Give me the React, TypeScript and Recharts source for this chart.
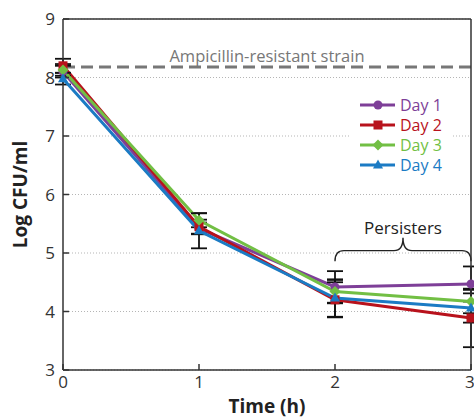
import {
  CartesianGrid,
  ErrorBar,
  Label,
  Legend,
  Line,
  LineChart,
  ReferenceArea,
  ReferenceLine,
  XAxis,
  YAxis,
} from 'recharts'

const FONT = '"Open Sans", "Noto Sans", sans-serif'

const hours = [0, 1, 2, 3]
const day1 = [8.1, 5.42, 4.42, 4.47]
const day1Err = [0.1, 0.1, 0.27, 0.3]
const day2 = [8.2, 5.45, 4.2, 3.89]
const day2Err = [0.12, 0.12, 0.3, 0.5]
const day3 = [8.13, 5.56, 4.34, 4.17]
const day3Err = [0.1, 0.12, 0.2, 0.2]
const day4 = [7.98, 5.38, 4.23, 4.06]
const day4Err = [0.1, 0.3, 0.32, 0.25]

const yTicks = [3, 4, 5, 6, 7, 8, 9]
const resistantLevel = 8.18

type Shape = 'circle' | 'square' | 'diamond' | 'triangle'

const series: { key: string; name: string; color: string; shape: Shape }[] = [
  { key: 'd1', name: 'Day 1', color: '#7e3f98', shape: 'circle' },
  { key: 'd2', name: 'Day 2', color: '#b8121c', shape: 'square' },
  { key: 'd3', name: 'Day 3', color: '#72bf44', shape: 'diamond' },
  { key: 'd4', name: 'Day 4', color: '#1b7bc4', shape: 'triangle' },
]

const data = hours.map((t, i) => ({
  t,
  d1: day1[i],
  d1e: day1Err[i],
  d2: day2[i],
  d2e: day2Err[i],
  d3: day3[i],
  d3e: day3Err[i],
  d4: day4[i],
  d4e: day4Err[i],
}))

function Marker({ shape, cx, cy, color }: { shape: Shape; cx: number; cy: number; color: string }) {
  if (shape === 'square') return <rect x={cx - 4.5} y={cy - 4.5} width={9} height={9} fill={color} />
  if (shape === 'diamond')
    return <polygon points={`${cx},${cy - 5.5} ${cx + 5.5},${cy} ${cx},${cy + 5.5} ${cx - 5.5},${cy}`} fill={color} />
  if (shape === 'triangle')
    return <polygon points={`${cx},${cy - 5.5} ${cx + 5},${cy + 3.5} ${cx - 5},${cy + 3.5}`} fill={color} />
  return <circle cx={cx} cy={cy} r={4.5} fill={color} />
}

// curly brace over the persister region
function Brace(props: any) {
  const { x, y, width, height } = props
  const mid = y + height * 0.55
  const cx = x + width / 2
  const d = `M${x},${y + height} Q${x},${mid} ${x + 9},${mid} L${cx - 9},${mid} Q${cx},${mid} ${cx},${y} Q${cx},${mid} ${cx + 9},${mid} L${x + width - 9},${mid} Q${x + width},${mid} ${x + width},${y + height}`
  return <path d={d} fill="none" stroke="#222" strokeWidth={1.4} />
}

function LegendBox() {
  return (
    <svg width={102} height={84} style={{ background: '#fff', display: 'block' }}>
      {series.map((s, i) => {
        const y = 13 + i * 20
        return (
          <g key={s.key}>
            <line x1={10} x2={45} y1={y} y2={y} stroke={s.color} strokeWidth={3} />
            <Marker shape={s.shape} cx={28} cy={y} color={s.color} />
            <text x={50} y={y + 6} fill={s.color} fontSize={16} fontFamily={FONT}>
              {s.name}
            </text>
          </g>
        )
      })}
    </svg>
  )
}

const axisStroke = { stroke: '#333', strokeWidth: 1.5 }

export default function App() {
  return (
    <div style={{ position: 'absolute', left: 0, top: 0 }}>
      <LineChart width={474} height={420} data={data} margin={{ top: 18, right: 0, bottom: 0, left: 0 }}>
        <CartesianGrid vertical={false} stroke="#b5b5b5" strokeDasharray="1 2" />
        <XAxis
          dataKey="t"
          type="number"
          domain={[0, 3]}
          ticks={hours}
          height={50}
          tickSize={-6}
          tickMargin={12}
          axisLine={axisStroke}
          tickLine={axisStroke}
          tick={{ fill: '#333', fontSize: 17, fontFamily: FONT }}
        >
          <Label
            value="Time (h)"
            position="insideBottom"
            offset={7}
            style={{ fontWeight: 700, fontSize: 19, fill: '#222', fontFamily: FONT }}
          />
        </XAxis>
        <XAxis
          xAxisId="top"
          orientation="top"
          dataKey="t"
          type="number"
          domain={[0, 3]}
          ticks={hours}
          height={1}
          tick={false}
          tickSize={-6}
          axisLine={axisStroke}
          tickLine={axisStroke}
        />
        <YAxis
          type="number"
          domain={[3, 9]}
          ticks={yTicks}
          width={63}
          tickSize={-6}
          tickMargin={14}
          axisLine={axisStroke}
          tickLine={axisStroke}
          tick={{ fill: '#333', fontSize: 17, fontFamily: FONT }}
        >
          <Label
            value="Log CFU/ml"
            angle={-90}
            position="insideLeft"
            offset={20}
            style={{ fontWeight: 700, fontSize: 19, fill: '#222', fontFamily: FONT, textAnchor: 'middle' }}
          />
        </YAxis>
        <YAxis
          yAxisId="right"
          orientation="right"
          type="number"
          domain={[3, 9]}
          ticks={yTicks}
          width={3}
          tick={false}
          tickSize={-6}
          axisLine={axisStroke}
          tickLine={axisStroke}
        />
        <ReferenceLine
          y={resistantLevel}
          stroke="#777"
          strokeWidth={3}
          strokeDasharray="12 6"
          label={{
            value: 'Ampicillin-resistant strain',
            position: 'top',
            offset: 5,
            fill: '#777',
            fontSize: 16.5,
            fontFamily: FONT,
          }}
        />
        <ReferenceArea
          x1={2}
          x2={3}
          y1={4.86}
          y2={5.26}
          shape={Brace}
          label={{ value: 'Persisters', position: 'top', offset: 4, fill: '#222', fontSize: 17, fontFamily: FONT }}
        />
        <Legend
          layout="horizontal"
          verticalAlign="middle"
          align="center"
          wrapperStyle={{ left: 350, top: 92, width: 102 }}
          content={() => <LegendBox />}
        />
        {series.map((s) => (
          <Line
            key={s.key}
            dataKey={s.key}
            name={s.name}
            stroke={s.color}
            strokeWidth={3}
            isAnimationActive={false}
            activeDot={false}
            dot={(p: any) => <Marker key={`${s.key}-${p.index}`} shape={s.shape} cx={p.cx} cy={p.cy} color={s.color} />}
          >
            <ErrorBar dataKey={`${s.key}e`} width={8} strokeWidth={1.8} stroke="#111" isAnimationActive={false} />
          </Line>
        ))}
      </LineChart>
    </div>
  )
}
